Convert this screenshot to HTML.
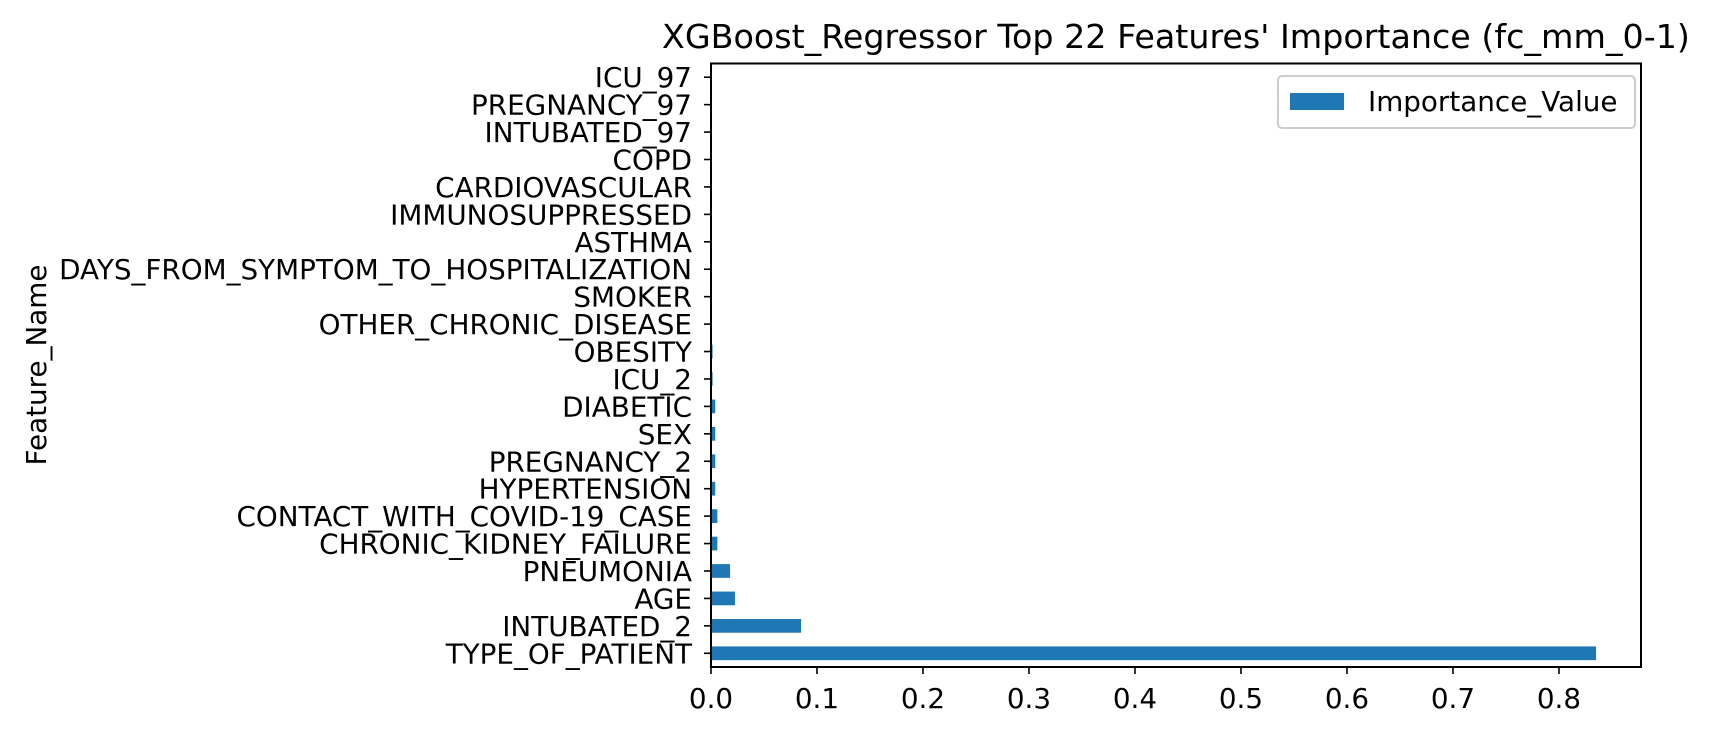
<!DOCTYPE html>
<html><head><meta charset="utf-8"><style>
html,body{margin:0;padding:0;background:#fff;}
svg{display:block;font-family:"DejaVu Sans","Liberation Sans",sans-serif;}
</style></head><body>
<svg id="chart" width="1710" height="734" viewBox="0 0 1710 734" xmlns="http://www.w3.org/2000/svg">
<rect width="1710" height="734" fill="#fff"/>
<text x="1176" y="48" font-size="33.3" text-anchor="middle" fill="#000">XGBoost_Regressor Top 22 Features' Importance (fc_mm_0-1)</text>
<text transform="translate(46,365) rotate(-90)" font-size="27.8" text-anchor="middle" fill="#000">Feature_Name</text>
<g id="bars"></g>
<g id="yticks"></g>
<g id="xticks"></g>
<rect x="711" y="63.5" width="930" height="603.5" fill="none" stroke="#000" stroke-width="2"/>
<g>
<rect x="1278" y="76" width="357" height="52" rx="4" fill="#fff" stroke="#ccc" stroke-width="2"/>
<rect x="1290" y="93" width="54" height="17" fill="#1f77b4"/>
<text x="1368" y="111" font-size="27.8" fill="#000">Importance_Value</text>
</g>
</svg>
<script>
const categories = ["TYPE_OF_PATIENT","INTUBATED_2","AGE","PNEUMONIA","CHRONIC_KIDNEY_FAILURE","CONTACT_WITH_COVID-19_CASE","HYPERTENSION","PREGNANCY_2","SEX","DIABETIC","ICU_2","OBESITY","OTHER_CHRONIC_DISEASE","SMOKER","DAYS_FROM_SYMPTOM_TO_HOSPITALIZATION","ASTHMA","IMMUNOSUPPRESSED","CARDIOVASCULAR","COPD","INTUBATED_97","PREGNANCY_97","ICU_97"];
const values = [0.835,0.085,0.0226,0.018,0.006,0.006,0.004,0.004,0.004,0.004,0.0015,0.0015,0.0004,0.0003,0.0003,0.0002,0.0002,0.0002,0.0001,0,0,0];
const xTickLabels = ["0.0","0.1","0.2","0.3","0.4","0.5","0.6","0.7","0.8"];
const xTicks = [0,0.1,0.2,0.3,0.4,0.5,0.6,0.7,0.8];

const NS="http://www.w3.org/2000/svg";
const L=711,R=1641,T=63.5,B=667,XMAX=0.8774;
const x=v=>L+v/XMAX*(R-L);
const n=categories.length, step=(B-T)/n;
const y=i=>B-(i+0.5)*step;
const bars=document.getElementById('bars'),yt=document.getElementById('yticks'),xt=document.getElementById('xticks');
categories.forEach((c,i)=>{
  const r=document.createElementNS(NS,'rect');
  
  
  r.setAttribute('x',L);r.setAttribute('y',y(i)-step/4);
  r.setAttribute('width',Math.max(0,x(values[i])-L));r.setAttribute('height',step/2);
  r.setAttribute('fill','#1f77b4');bars.appendChild(r);
  const tk=document.createElementNS(NS,'line');
  
  
  tk.setAttribute('x1',L-7);tk.setAttribute('x2',L);tk.setAttribute('y1',y(i));tk.setAttribute('y2',y(i));
  tk.setAttribute('stroke','#000');tk.setAttribute('stroke-width','1.6');yt.appendChild(tk);
  const t=document.createElementNS(NS,'text');
  
  
  t.setAttribute('x',L-19);t.setAttribute('y',y(i)+10);t.setAttribute('font-size','27.8');
  t.setAttribute('text-anchor','end');t.textContent=c;yt.appendChild(t);
});
xTicks.forEach((v,i)=>{
  const tk=document.createElementNS(NS,'line');
  
  
  tk.setAttribute('x1',x(v));tk.setAttribute('x2',x(v));tk.setAttribute('y1',B);tk.setAttribute('y2',B+7);
  tk.setAttribute('stroke','#000');tk.setAttribute('stroke-width','1.6');xt.appendChild(tk);
  const t=document.createElementNS(NS,'text');
  
  
  t.setAttribute('x',x(v));t.setAttribute('y',708);t.setAttribute('font-size','27.8');
  t.setAttribute('text-anchor','middle');t.textContent=xTickLabels[i];xt.appendChild(t);
});
</script>
</body></html>
